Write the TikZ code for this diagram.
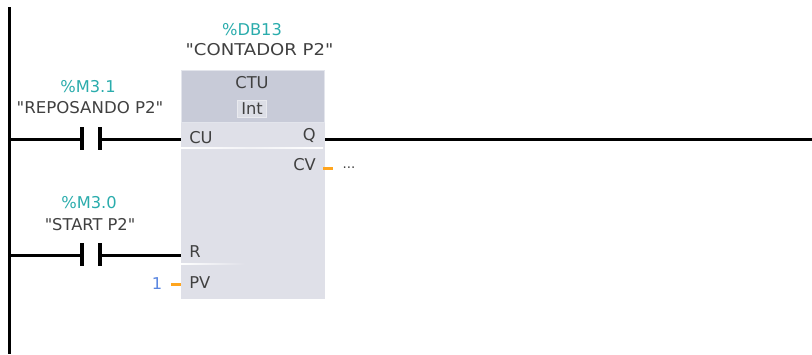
\documentclass[tikz,border=0pt]{standalone}
\usepackage{fontspec}
\newfontfamily\lblfont{DejaVu Sans}
\definecolor{teal1}{HTML}{2AACAC}
\definecolor{txt}{HTML}{404040}
\definecolor{hdr}{HTML}{C8CBD8}
\definecolor{bodyc}{HTML}{DFE0E8}
\definecolor{intc}{HTML}{DCDEE6}
\definecolor{orng}{HTML}{FFA51E}
\definecolor{blu}{HTML}{5A86E0}
\tikzset{
  x=0.75pt,y=-0.75pt,
  wire/.style={line width=2.25pt,black},
  bar/.style={line width=2.3pt,black},
  pin/.style={line width=2.25pt,orng},
  lab/.style={inner sep=0pt,text=txt,font=\lblfont\fontsize{12.2}{14}\selectfont},
  addr/.style={inner sep=0pt,text=teal1,font=\lblfont\fontsize{12.2}{14}\selectfont}
}
\begin{document}
\begin{tikzpicture}
\useasboundingbox (0,0) rectangle (812,354);
% block
\fill[bodyc] (181,70) rectangle (325,299);
\fill[hdr] (181,70) rectangle (325,122);
\draw[line width=.75pt,white!50!hdr] (181.5,70.5) rectangle (324.5,122);
\fill[left color=white,right color=bodyc!40!white] (181,147.3) rectangle (250,148.7);
\fill[left color=bodyc!40!white,right color=white] (250,147.3) rectangle (323,148.7);
\fill[left color=white,right color=bodyc] (181,263.3) rectangle (245,264.7);
\node[lab] (ctu) at (252,83) {CTU};
\node[lab,fill=intc,draw=white!60!hdr,line width=.75pt,inner xsep=3pt,inner ysep=2pt] (int) at (252,109) {Int};
\node[lab,anchor=west] (cu) at (189,138) {CU};
\node[lab,anchor=east] (q) at (316,136) {Q};
\node[lab,anchor=east] (cv) at (316,165) {CV};
\node[lab,anchor=west] (r) at (189,252) {R};
\node[lab,anchor=west] (pv) at (189,283) {PV};
\node[addr] (db) at (252,30) {\%DB13};
\node[lab,transform shape,xscale=1.11] (cont) at (259.5,50) {"CONTADOR P2"};
\node[addr] (m31) at (88,87) {\%M3.1};
\node[lab,transform shape,xscale=1.02] (rep) at (90,108) {"REPOSANDO P2"};
\node[addr] (m30) at (89,203) {\%M3.0};
\node[lab] (st) at (90,225) {"START P2"};
\node[inner sep=0pt,text=blu,font=\lblfont\fontsize{12.2}{14}\selectfont] (one) at (157,284) {1};
\node[lab,font=\lblfont\fontsize{10}{12}\selectfont] (dots) at (349,168) {...};
% rail
\coordinate (t) at (9,7); \coordinate (b) at (9,354);
\draw[wire] (t) -- (b);
% rung 1
\coordinate (l1) at (9,139); \coordinate (c1a) at (82,139); \coordinate (c1b) at (100,139); \coordinate (i1) at (181,139);
\coordinate (q1) at (325,139); \coordinate (e1) at (812,139);
\draw[wire] (l1) -- (c1a); \draw[wire] (c1b) -- (i1); \draw[wire] (q1) -- (e1);
\draw[bar] (82,127) -- (82,150); \draw[bar] (100,127) -- (100,150);
% rung 2
\coordinate (l2) at (9,255); \coordinate (c2a) at (82,255); \coordinate (c2b) at (100,255); \coordinate (i2) at (181,255);
\draw[wire] (l2) -- (c2a); \draw[wire] (c2b) -- (i2);
\draw[bar] (82,243) -- (82,266); \draw[bar] (100,243) -- (100,266);
% pins
\coordinate (p1) at (171,284); \coordinate (p2) at (181,284);
\draw[pin] (p1) -- (p2);
\coordinate (p3) at (323,168); \coordinate (p4) at (333,168);
\draw[pin] (p3) -- (p4);
\end{tikzpicture}
\end{document}
